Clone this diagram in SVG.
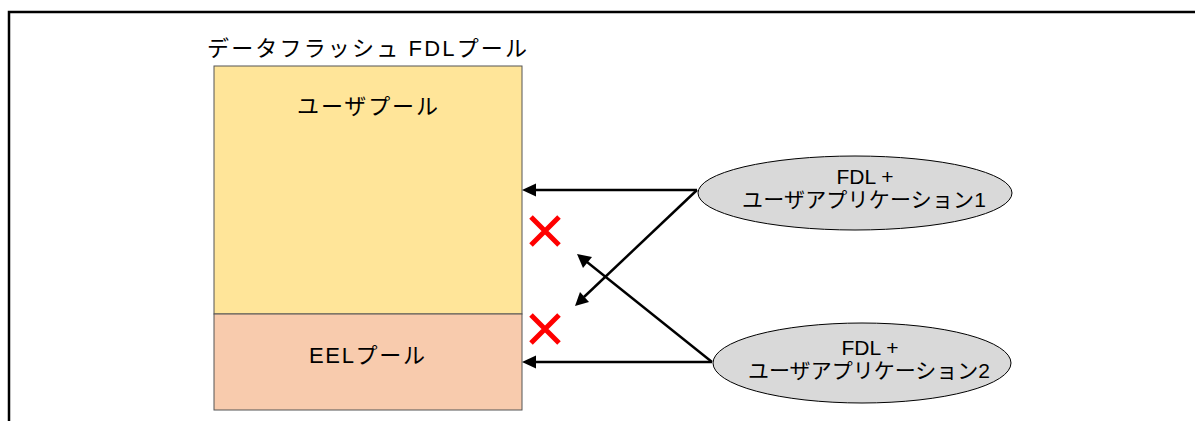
<svg xmlns="http://www.w3.org/2000/svg" width="1195" height="421" viewBox="0 0 1195 421">
<style>
text{font-family:"Liberation Sans","Noto Sans CJK JP",sans-serif;fill:#000}
.t{font-size:22px}
.e{font-size:21px;text-anchor:middle}
.c{stroke:#000;stroke-width:2.5;fill:none}
.x{stroke:#ff0000;stroke-width:5;fill:none}
</style>
<rect width="1195" height="421" fill="#fff"/>
<g id="frame"><path d="M9,421 V12 H1195" stroke="#000" stroke-width="2.5" fill="none"/></g>
<g id="title"><text class="t" x="207" y="56" textLength="320" lengthAdjust="spacing">データフラッシュ  FDLプール</text></g>
<g id="userpool"><rect x="214" y="66" width="308" height="248" fill="#FFE599" stroke="#555" stroke-width="1"/><text class="t" x="297" y="114" textLength="141" lengthAdjust="spacing">ユーザプール</text></g>
<g id="eelpool"><rect x="214" y="314" width="308" height="96" fill="#F8CBAD" stroke="#555" stroke-width="1"/><text class="t" x="309" y="363" textLength="116" lengthAdjust="spacing">EELプール</text></g>
<g id="app1"><ellipse cx="855" cy="193" rx="157" ry="37" fill="#D9D9D9" stroke="#000" stroke-width="1"/><text class="e" x="865" y="184">FDL +</text><text class="e" x="864" y="207" textLength="244" lengthAdjust="spacing">ユーザアプリケーション1</text></g>
<g id="app2"><ellipse cx="862" cy="363" rx="149" ry="40" fill="#D9D9D9" stroke="#000" stroke-width="1"/><text class="e" x="870" y="355">FDL +</text><text class="e" x="869" y="378" textLength="242" lengthAdjust="spacing">ユーザアプリケーション2</text></g>
<g id="connectors">
<path class="c" d="M697,190 L533,190"/>
<path d="M522,190 L536,183.5 L536,196.5 Z"/>
<path class="c" d="M697,190 L584,297"/>
<path d="M575,306 L580,292 L589,302 Z"/>
<path class="c" d="M712,362 L587,262"/>
<path d="M577,254 L592,257 L583,268 Z"/>
<path class="c" d="M712,362 L533,362"/>
<path d="M522,362 L536,355.5 L536,368.5 Z"/>
</g>
<g id="x1"><path class="x" d="M531,217 L559,245 M559,217 L531,245"/></g>
<g id="x2"><path class="x" d="M531,315 L559,343 M559,315 L531,343"/></g>
</svg>
